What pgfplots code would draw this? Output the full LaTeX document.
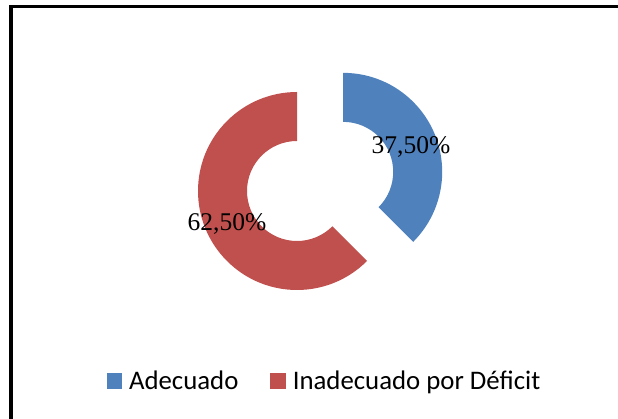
\documentclass[border=0pt]{standalone}
\usepackage{pgfplots}
\pgfplotsset{compat=1.18}
\usepackage{pgfplotstable}
\usepackage{fontspec}
\setmainfont{Carlito}
\newfontfamily\timesf{Liberation Serif}
\newfontfamily\calib{Carlito}
\definecolor{cblue}{HTML}{4F81BD}
\definecolor{cred}{HTML}{C0504D}

\pgfplotstableread{
label value
Adecuado 37.5
Inadecuado 62.5
}\datatable
\pgfplotstablegetelem{0}{value}\of\datatable \let\va\pgfplotsretval
\pgfplotstablegetelem{1}{value}\of\datatable \let\vb\pgfplotsretval
\pgfmathsetmacro\aA{90}
\pgfmathsetmacro\aB{90-3.6*\va}
\pgfmathsetmacro\aC{\aB-3.6*\vb}
\pgfmathsetmacro\amid{(\aA+\aB)/2}

\begin{document}
\begin{tikzpicture}
\begin{axis}[
  width=618pt, height=419pt, scale only axis,
  xmin=0, xmax=618, ymin=0, ymax=419,
  hide axis, clip=false,
  legend columns=2,
  legend style={at={(0.525,0.0907)}, anchor=center, draw=none, fill=none,
    font=\calib\fontsize{26.8}{30}\selectfont,
    /tikz/every even column/.append style={column sep=30pt}},
  legend image code/.code={\fill[#1] (0pt,-7pt) rectangle (14.5pt,7.5pt); \path (20pt,0pt);},
]
\path (axis cs:0,0) rectangle (axis cs:618,419);
% frame (top and left edges visible)
\fill[black] (axis cs:8.7,0) rectangle (axis cs:12.5,414);
\fill[black] (axis cs:8.7,411) rectangle (axis cs:618,414);
% exploded slice (Adecuado)
\fill[cblue, shift={(axis cs:297,228)}, shift={(\amid:50pt)}]
  (\aA:99pt) arc[start angle=\aA, end angle=\aB, radius=99pt]
  -- (\aB:50pt) arc[start angle=\aB, end angle=\aA, radius=50pt] -- cycle;
% Inadecuado por Deficit
\fill[cred, shift={(axis cs:297,228)}]
  (\aB:99pt) arc[start angle=\aB, end angle=\aC, radius=99pt]
  -- (\aC:50pt) arc[start angle=\aC, end angle=\aB, radius=50pt] -- cycle;
\node[font=\timesf\fontsize{25.5}{28}\selectfont, inner sep=0pt] at (axis cs:411,272) {37,50\%};
\node[font=\timesf\fontsize{25.5}{28}\selectfont, inner sep=0pt] at (axis cs:227,195.5) {62,50\%};
\addlegendimage{cblue}
\addlegendentry{Adecuado}
\addlegendimage{cred}
\addlegendentry{Inadecuado por Déficit}
\end{axis}
\end{tikzpicture}
\end{document}
